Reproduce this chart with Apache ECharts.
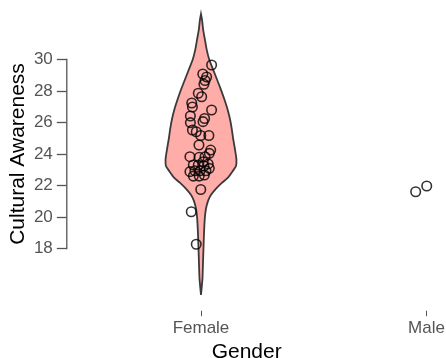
<!DOCTYPE html>
<html>
<head>
<meta charset="utf-8">
<script src="https://cdn.jsdelivr.net/npm/echarts@6/dist/echarts.min.js"></script>
<style>
html,body{margin:0;padding:0;background:#fff;}
#chart{width:446px;height:358px;}
</style>
</head>
<body>
<div id="chart"></div>
<script>
// ---- data ----
const categories = ['Female', 'Male'];
const yTickValues = [18, 20, 22, 24, 26, 28, 30];

const femaleValues = [29.64, 29.07, 28.88, 28.66, 28.42, 27.85, 27.63, 27.23, 26.98, 26.79,
  26.41, 26.25, 26.05, 25.99, 25.52, 25.41, 25.17, 25.17, 24.57, 24.25,
  24.04, 23.83, 23.79, 23.83, 23.51, 23.30, 23.30, 23.24, 23.37, 22.88,
  22.94, 22.94, 22.94, 22.60, 22.60, 22.67, 23.09, 21.75, 20.34, 18.28];
const femaleJitter = [0.047, 0.008, 0.025, 0.018, 0.013, -0.012, 0.003, -0.041, -0.038, 0.047,
  -0.047, 0.016, 0.009, -0.047, -0.038, -0.021, -0.001, 0.035, -0.009, 0.043,
  0.037, -0.049, -0.008, 0.018, 0.010, -0.034, -0.012, 0.013, 0.032, -0.049,
  -0.027, -0.004, 0.022, -0.034, -0.008, 0.015, 0.037, -0.001, -0.043, -0.021];

const maleValues = [21.61, 21.97];
const maleJitter = [-0.048, 0.001];

// violin outline (Female): value and relative density
const violinValues = [32.87, 32.5, 31.9, 31.26, 30.63, 30.0, 29.37, 28.74, 28.1, 27.47,
  26.84, 26.2, 25.58, 24.95, 24.3, 23.68, 23.24, 22.93, 22.5, 22.17,
  21.79, 21.4, 21.03, 20.53, 19.9, 18.95, 18.0, 17.05, 16.1, 15.07];
const violinDensity = [0, 0.03, 0.06, 0.11, 0.16, 0.23, 0.34, 0.45, 0.56, 0.66,
  0.75, 0.82, 0.87, 0.91, 0.96, 1.0, 0.99, 0.90, 0.76, 0.59,
  0.42, 0.28, 0.20, 0.14, 0.107, 0.085, 0.07, 0.056, 0.042, 0];

// ---- styles ----
const violinMaxHalf = 0.157; // in x-axis units
const xMin = -0.595, xMax = 1;
const font = 'Liberation Sans, Arial, sans-serif';
const gray = '#555';

const chart = echarts.init(document.getElementById('chart'), null, {renderer: 'canvas'});

const femalePts = femaleValues.map((v, i) => [0 + femaleJitter[i], v]);
const malePts = maleValues.map((v, i) => [1 + maleJitter[i], v]);

chart.setOption({
  animation: false,
  backgroundColor: '#fff',
  grid: {left: 66.8, right: 19.5, top: 12, bottom: 62, outerBoundsMode: 'none', containLabel: false},
  xAxis: {
    type: 'value', min: xMin, max: xMax,
    offset: 14.7,
    axisLine: {show: false, onZero: false},
    splitLine: {show: false},
    axisTick: {show: true, customValues: [0, 1], length: 5.5, lineStyle: {color: gray, width: 1}},
    axisLabel: {show: true, customValues: [0, 1], margin: 9, color: gray, fontSize: 17, fontFamily: font,
      formatter: v => categories[Math.round(v)]},
    name: 'Gender', nameLocation: 'middle', nameGap: 31, nameMoveOverlap: false,
    nameTextStyle: {color: '#000', fontSize: 21, fontFamily: font}
  },
  yAxis: {
    type: 'value', min: 15, max: 33,
    axisLine: {show: false, onZero: false},
    splitLine: {show: false},
    axisTick: {show: true, customValues: yTickValues, length: 10, lineStyle: {color: gray, width: 1.3}},
    axisLabel: {show: true, customValues: yTickValues, margin: 14, color: gray, fontSize: 17, fontFamily: font},
    name: 'Cultural Awareness', nameLocation: 'middle', nameGap: 38, nameRotate: 90, nameMoveOverlap: false,
    nameTextStyle: {color: '#000', fontSize: 21, fontFamily: font}
  },
  series: [
    {
      type: 'custom',
      silent: true,
      clip: false,
      data: [[xMin, yTickValues[0], yTickValues[yTickValues.length - 1]]],
      renderItem: function (params, api) {
        const p1 = api.coord([api.value(0), api.value(1)]);
        const p2 = api.coord([api.value(0), api.value(2)]);
        return {type: 'line', shape: {x1: p1[0], y1: p1[1] + 0.65, x2: p2[0], y2: p2[1] - 0.65},
          style: {stroke: gray, lineWidth: 1.3}};
      },
      z: 1
    },
    {
      type: 'custom',
      silent: true,
      clip: false,
      data: [[0]],
      renderItem: function (params, api) {
        const cx = api.value(0);
        const right = violinValues.map((v, i) => api.coord([cx + violinDensity[i] * violinMaxHalf, v]));
        const left = violinValues.map((v, i) => api.coord([cx - violinDensity[i] * violinMaxHalf, v])).reverse();
        return {type: 'polygon', shape: {points: right.concat(left), smooth: 0.2},
          style: {fill: '#FFADA9', stroke: '#3a3a3a', lineWidth: 1.8}};
      },
      z: 2
    },
    {
      type: 'scatter',
      clip: false,
      data: femalePts,
      symbol: 'circle', symbolSize: 9.5,
      itemStyle: {color: 'rgba(0,0,0,0)', borderColor: '#000', borderWidth: 1.6},
      z: 3
    },
    {
      type: 'scatter',
      clip: false,
      data: malePts,
      symbol: 'circle', symbolSize: 9.5,
      itemStyle: {color: 'rgba(0,0,0,0)', borderColor: '#000', borderWidth: 1.6},
      z: 3
    }
  ]
});
</script>
</body>
</html>
